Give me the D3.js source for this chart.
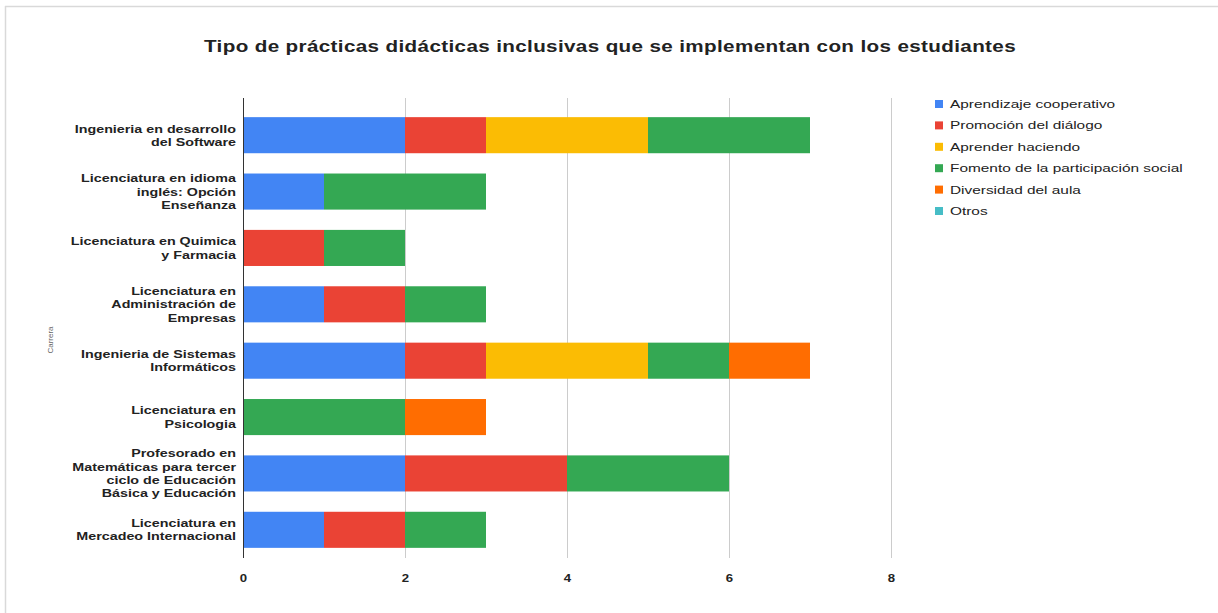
<!DOCTYPE html>
<html><head><meta charset="utf-8">
<script src="https://cdn.jsdelivr.net/npm/d3@7"></script>
<style>
html,body{margin:0;padding:0;background:#fff;}
svg{display:block;font-family:"Liberation Sans",Arial,sans-serif;}
</style></head>
<body>
<svg id="chart" width="1218" height="613"></svg>
<script>
const categories = [
  "Ingenieria en desarrollo\ndel Software",
  "Licenciatura en idioma\ninglés: Opción\nEnseñanza",
  "Licenciatura en Quimica\ny Farmacia",
  "Licenciatura en\nAdministración de\nEmpresas",
  "Ingenieria de Sistemas\nInformáticos",
  "Licenciatura en\nPsicologia",
  "Profesorado en\nMatemáticas para tercer\nciclo de Educación\nBásica y Educación",
  "Licenciatura en\nMercadeo Internacional"
];
const seriesNames = [
  "Aprendizaje cooperativo",
  "Promoción del diálogo",
  "Aprender haciendo",
  "Fomento de la participación social",
  "Diversidad del aula",
  "Otros"
];
const seriesColors = ["#4285F4","#EA4335","#FBBC04","#34A853","#FF6D01","#46BDC6"];
const aprendizajeCooperativo = [2,1,0,1,2,0,2,1];
const promocionDialogo       = [1,0,1,1,1,0,2,1];
const aprenderHaciendo       = [2,0,0,0,2,0,0,0];
const fomentoParticipacion   = [2,2,1,1,1,2,2,1];
const diversidadAula         = [0,0,0,0,1,1,0,0];
const otros                  = [0,0,0,0,0,0,0,0];
const xTicks = [0,2,4,6,8];
const titleText = "Tipo de prácticas didácticas inclusivas que se implementan con los estudiantes";
const yAxisTitle = "Carrera";

const seriesValues = [aprendizajeCooperativo,promocionDialogo,aprenderHaciendo,fomentoParticipacion,diversidadAula,otros];
const rows = categories.map((c,i)=>{
  const r = {cat:c};
  seriesNames.forEach((s,j)=>r[s]=seriesValues[j][i]);
  return r;
});

const svg = d3.select("#chart");
// frame lines
svg.append("line").attr("x1",5.5).attr("x2",5.5).attr("y1",6).attr("y2",613).attr("stroke","#d9d9d9").attr("stroke-width",1.5);
svg.append("line").attr("x1",5).attr("x2",1218).attr("y1",6.5).attr("y2",6.5).attr("stroke","#d9d9d9").attr("stroke-width",1.5);

const x = d3.scaleLinear().domain([0,8]).range([243,891]);
const y = d3.scaleBand().domain(categories).range([107,558]).paddingInner(0.36).paddingOuter(0.18);

// gridlines
svg.append("g").selectAll("line").data(xTicks.filter(t=>t>0)).join("line")
  .attr("x1",d=>x(d)+0.5).attr("x2",d=>x(d)+0.5).attr("y1",98).attr("y2",558)
  .attr("stroke","#cccccc").attr("stroke-width",1);

const stack = d3.stack().keys(seriesNames)(rows);
svg.append("g").selectAll("g").data(stack).join("g")
  .attr("fill",(d,i)=>seriesColors[i])
  .selectAll("rect").data(d=>d).join("rect")
  .attr("x",d=>x(d[0])).attr("width",d=>x(d[1])-x(d[0]))
  .attr("y",d=>y(d.data.cat)).attr("height",y.bandwidth());

// baseline axis
svg.append("line").attr("x1",x(0)+0.5).attr("x2",x(0)+0.5).attr("y1",98).attr("y2",558)
  .attr("stroke","#333").attr("stroke-width",1);

// x axis
const xAxis = d3.axisBottom(x).tickValues(xTicks).tickSize(0).tickPadding(0).tickFormat(d3.format("d"));
const gx = svg.append("g").attr("transform","translate(0,582)").call(xAxis);
gx.select(".domain").remove();
gx.selectAll("text").attr("font-size",11).attr("font-weight","bold").attr("fill","#222").attr("dy",0)
  .attr("transform","scale(1.2,1)");

// y axis labels
const gy = svg.append("g");
categories.forEach(c=>{
  const lines = c.split("\n");
  const lh = 13.3;
  const cy = y(c)+y.bandwidth()/2;
  const t = gy.append("text").attr("text-anchor","end").attr("font-size",11).attr("font-weight","bold").attr("fill","#222")
    .attr("transform","translate(236,0) scale(1.3,1)");
  lines.forEach((l,i)=>{
    t.append("tspan").attr("x",0).attr("y",cy + (i-(lines.length-1)/2)*lh + 4).text(l);
  });
});

// y axis title
svg.append("text").attr("transform","translate(53,340) rotate(-90)").attr("text-anchor","middle")
  .attr("font-size",8).attr("fill","#666").text(yAxisTitle);

// title
svg.append("text").attr("transform","translate(610,52) scale(1.25,1)").attr("text-anchor","middle")
  .attr("font-size",16.5).attr("font-weight","bold").attr("fill","#222").attr("letter-spacing",0.3).text(titleText);

// legend
const lg = svg.append("g");
seriesNames.forEach((s,i)=>{
  const yy = 104 + i*21.4;
  lg.append("rect").attr("x",935).attr("y",yy-4).attr("width",8).attr("height",8).attr("fill",seriesColors[i]);
  lg.append("text").attr("transform",`translate(950,${yy+4}) scale(1.4,1)`).attr("font-size",11).attr("fill","#222").text(s);
});
</script>
</body></html>
